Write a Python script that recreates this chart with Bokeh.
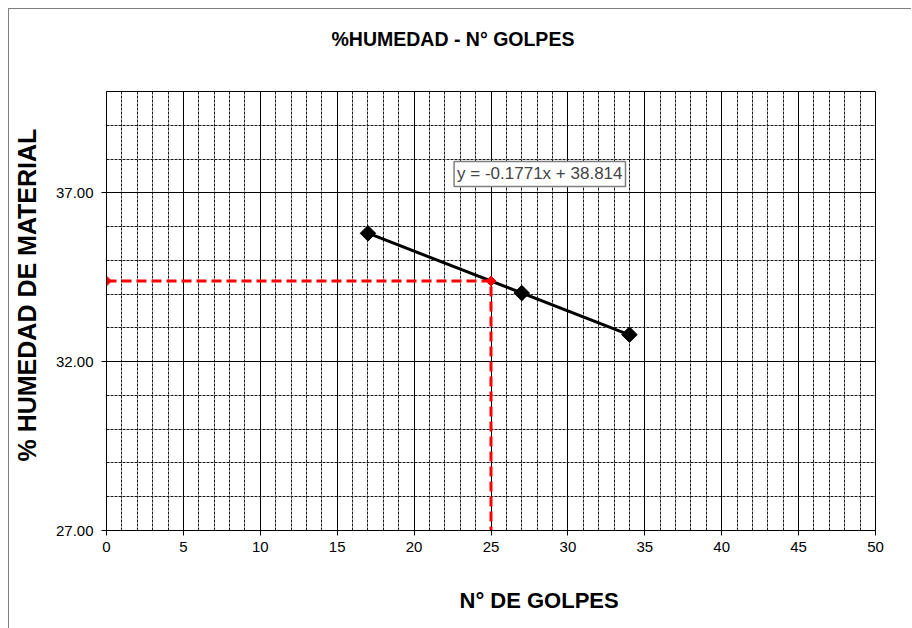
import math
from bokeh.plotting import figure
from bokeh.models import (Range1d, FixedTicker, NumeralTickFormatter, Label, Title)
from bokeh.embed import file_html
from bokeh.resources import INLINE

# ---- data ----
golpes = [17, 27, 34]
humedad = [35.80, 34.03, 32.80]
slope = -0.1771
intercept = 38.814
golpes_ref = 25
x_ticks = [0, 5, 10, 15, 20, 25, 30, 35, 40, 45, 50]
y_ticks = [27, 32, 37]
y_minor = [28, 29, 30, 31, 33, 34, 35, 36, 38, 39, 40]
x_minor = [i for i in range(0, 51) if i % 5 != 0]

title_txt = "%HUMEDAD -  N° GOLPES"
xlab = "N° DE GOLPES"
ylab = "% HUMEDAD DE MATERIAL"
eq_txt = "y = -0.1771x + 38.814"

FONT = "Liberation Sans"

p = figure(width=902, height=619, output_backend="svg", toolbar_location=None,
           x_range=Range1d(0, 50), y_range=Range1d(27, 40),
           frame_width=769, frame_height=439, title_location=None,
           min_border_left=97, min_border_right=36, min_border_top=82, min_border_bottom=98)
p.styles = {"margin-left": "8px", "margin-top": "8px",
            "border-left": "1px solid #7f7f7f", "border-top": "1px solid #7f7f7f"}
p.background_fill_color = "white"
p.border_fill_color = "white"
p.outline_line_color = "black"
p.outline_line_width = 1

# axes
p.xaxis.ticker = FixedTicker(ticks=x_ticks, minor_ticks=x_minor)
p.yaxis.ticker = FixedTicker(ticks=y_ticks, minor_ticks=y_minor)
p.yaxis.formatter = NumeralTickFormatter(format="0.00")
for ax in (p.xaxis[0], p.yaxis[0]):
    ax.major_tick_out = 5
    ax.major_tick_in = 0
    ax.minor_tick_line_color = None
    ax.axis_line_color = "black"
    ax.major_tick_line_color = "black"
    ax.major_label_text_font = FONT
    ax.major_label_text_font_size = "15px"
    ax.major_label_text_color = "black"
p.xaxis.major_label_standoff = 6
p.yaxis.major_label_standoff = 8

# grids
for g in (p.xgrid[0], p.ygrid[0]):
    g.grid_line_color = "black"
    g.grid_line_width = 1
    g.grid_line_alpha = 1.0
    g.minor_grid_line_color = "#1a1a1a"
    g.minor_grid_line_width = 1
    g.minor_grid_line_alpha = 1.0
    g.minor_grid_line_dash = "3 1"

def spacer(size, standoff):
    return Title(text=" ", text_font=FONT, text_font_size=size, standoff=standoff)

# chart title (spacer between frame and title)
p.add_layout(spacer("19px", 19), "above")
p.add_layout(Title(text=title_txt, align="left", offset=225, text_font=FONT,
                   text_font_size="19.5px", text_font_style="bold", text_color="black",
                   standoff=0), "above")

# axis titles as side titles (offset as in the sheet)
p.add_layout(spacer("9px", 0), "left")
p.add_layout(Title(text=ylab, align="left", offset=69, text_font=FONT,
                   text_font_size="25px", text_font_style="bold", text_color="black",
                   standoff=0), "left")
p.add_layout(spacer("19px", 8), "below")
p.add_layout(Title(text=xlab, align="left", offset=353, text_font=FONT,
                   text_font_size="22px", text_font_style="bold", text_color="black",
                   standoff=0), "below")

# trend line across data range
tx = [min(golpes), max(golpes)]
ty = [slope * v + intercept for v in tx]
p.line(tx, ty, line_color="black", line_width=3)
p.scatter(golpes, humedad, marker="square", angle=math.pi / 4, size=11, color="black")

# reference dashed red
h_ref = slope * golpes_ref + intercept
rx = [0, golpes_ref, golpes_ref]
ry = [h_ref, h_ref, 27]
p.line(rx, ry, line_color="red", line_width=3, line_dash="10 5")
p.scatter(rx[:2], ry[:2], marker="square", angle=math.pi / 4, size=7, color="red")

# equation label
lab = Label(x=22.6, y=37.56, text=eq_txt, text_font=FONT, text_font_size="17px",
            text_align="left", text_baseline="middle",
            background_fill_color="white", border_line_color="#7f7f7f", border_line_width=1.5,
            padding=3)
p.add_layout(lab)

open("out.html", "w").write(file_html(p, INLINE))
